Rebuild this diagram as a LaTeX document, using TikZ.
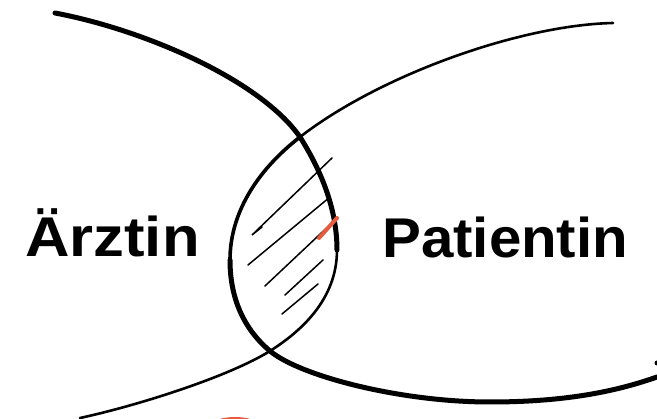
\documentclass[tikz,border=0pt]{standalone}
\usepackage{fontspec}
\setmainfont{Liberation Sans}
\usetikzlibrary{positioning}
\definecolor{marker}{HTML}{E85A3C}

\begin{document}
\begin{tikzpicture}[
    x=1pt, y=-1pt,
    setname/.style={font=\fontsize{56}{56}\selectfont\bfseries, inner sep=0pt, anchor=base west},
    thickarc/.style={line width=5pt, line cap=round},
    midarc/.style={line width=3.6pt, line cap=round},
    thinarc/.style={line width=2.6pt, line cap=round},
    hatch/.style={line width=1.5pt, line cap=round},
    redmark/.style={line width=4pt, line cap=round, marker},
]
\useasboundingbox (0,0) rectangle (657,419);

% Aerztin arc (thick at the top, thin at the bottom)
\draw[thickarc] (55,13) .. controls (145,30) and (260,80) .. (300,137)
    .. controls (322,172) and (337,210) .. (337,250);
\draw[thinarc] (337,250) .. controls (337,300) and (300,332) .. (270,351)
    .. controls (230,376) and (140,405) .. (80,418);

% Patientin arc (thin at the top, thick at the bottom)
\draw[thinarc] (613,23) .. controls (520,25) and (380,75) .. (300,137);
\draw[midarc] (300,137) .. controls (255,172) and (230,215) .. (230,260);
\draw[thickarc] (230,260) .. controls (230,300) and (245,330) .. (270,351)
    .. controls (300,376) and (400,402) .. (490,402)
    .. controls (570,402) and (620,390) .. (657,377);
\fill (657,363) circle (2.5);

% Hatching of the overlap
\draw[hatch] (332,158) -- (252,235) -- (262,227);
\draw[hatch] (330,197) -- (248,265);
\draw[hatch] (334,221) -- (265,286);
\draw[hatch] (323,260) -- (285,295);
\draw[hatch] (318,284) -- (282,314);

% Red marks
\draw[redmark] (337,218) -- (319,238);
\draw[redmark] (204,428) .. controls (222,416) and (248,416) .. (266,428);

% Labels
\node[setname] (arztin) at (25,257) {\scalebox{1.1}[1]{Ärztin}};
\node[setname] (patientin) at (382,258) {\scalebox{1.04}[1]{Patientin}};

\end{tikzpicture}
\end{document}
